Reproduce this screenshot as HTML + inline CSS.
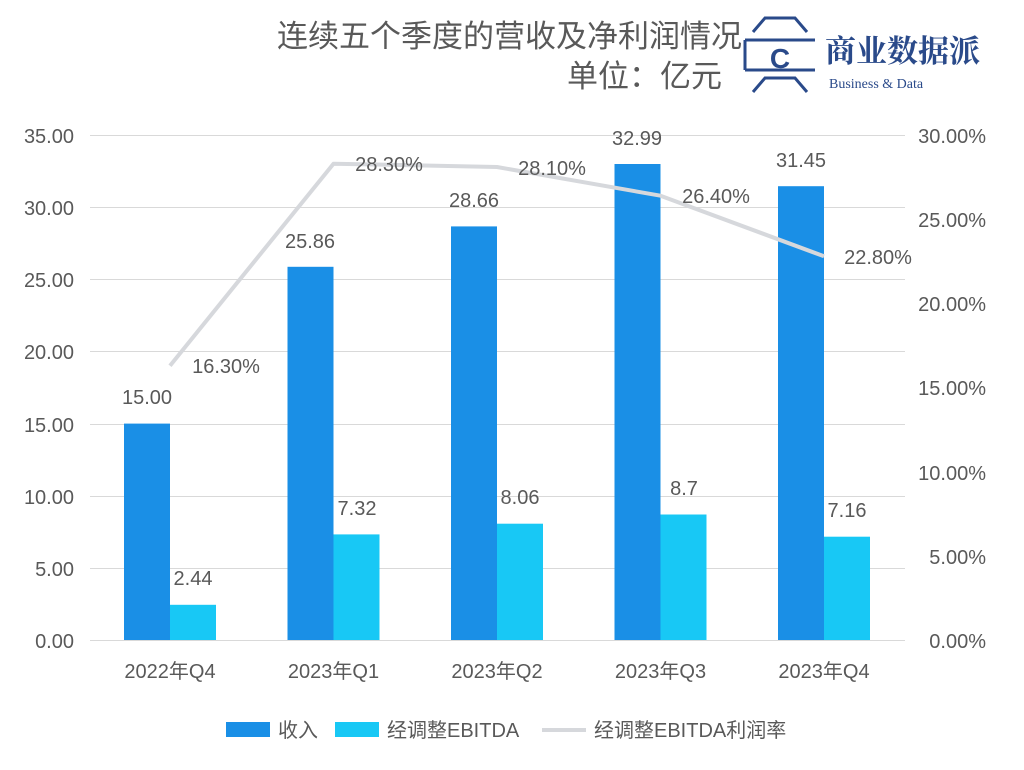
<!DOCTYPE html>
<html><head><meta charset="utf-8"><style>
body{margin:0;background:#fff;}
svg text{font-family:"Liberation Sans","Noto Sans CJK SC",sans-serif;fill:#595959;}
</style></head><body>
<svg width="1024" height="765" viewBox="0 0 1024 765" xmlns="http://www.w3.org/2000/svg">
<rect width="1024" height="765" fill="#fff"/>
<text x="742" y="47" font-size="31" text-anchor="end">连续五个季度的营收及净利润情况</text>
<text x="722" y="87" font-size="31" text-anchor="end">单位：亿元</text>
<!-- logo -->
<g stroke="#2a4a8a" stroke-width="3" fill="none">
<polyline points="753,32 765,18 795,18 807,32"/>
<polyline points="753,92 765,78 795,78 807,92"/>
<polyline points="745,40 745,70"/><line x1="745" y1="40" x2="815" y2="40"/><line x1="745" y1="70" x2="815" y2="70"/>
</g>
<text x="780" y="68" font-size="28" text-anchor="middle" style="fill:#2a4a8a;font-weight:bold">C</text>
<text x="825" y="62" font-size="31" style="fill:#2a4a8a;font-family:'Noto Serif CJK SC',serif;font-weight:bold">商业数据派</text>
<text x="829" y="88" font-size="14" style="fill:#2a4a8a;font-family:'Liberation Serif',serif">Business &amp; Data</text>
<!-- grid -->
<g stroke="#d9d9d9" stroke-width="1">
<line x1="90" y1="135.5" x2="905" y2="135.5"/><line x1="90" y1="207.5" x2="905" y2="207.5"/>
<line x1="90" y1="279.5" x2="905" y2="279.5"/><line x1="90" y1="351.5" x2="905" y2="351.5"/>
<line x1="90" y1="424.5" x2="905" y2="424.5"/><line x1="90" y1="496.5" x2="905" y2="496.5"/>
<line x1="90" y1="568.5" x2="905" y2="568.5"/><line x1="90" y1="640.5" x2="905" y2="640.5"/>
</g>
<g font-size="20" text-anchor="end">
<text x="74" y="143">35.00</text><text x="74" y="215">30.00</text><text x="74" y="287">25.00</text>
<text x="74" y="359">20.00</text><text x="74" y="432">15.00</text><text x="74" y="504">10.00</text>
<text x="74" y="576">5.00</text><text x="74" y="648">0.00</text>
</g>
<g font-size="20" text-anchor="end">
<text x="986" y="143">30.00%</text><text x="986" y="227">25.00%</text><text x="986" y="311">20.00%</text>
<text x="986" y="395">15.00%</text><text x="986" y="480">10.00%</text><text x="986" y="564">5.00%</text>
<text x="986" y="648">0.00%</text>
</g>
<!-- bars -->
<g fill="#1a8fe6">
<rect x="124" y="423.6" width="46" height="216.4"/>
<rect x="287.5" y="266.8" width="46" height="373.2"/>
<rect x="451" y="226.4" width="46" height="413.6"/>
<rect x="614.5" y="164" width="46" height="476"/>
<rect x="778" y="186.2" width="46" height="453.8"/>
</g>
<g fill="#18c8f5">
<rect x="170" y="604.8" width="46" height="35.2"/>
<rect x="333.5" y="534.4" width="46" height="105.6"/>
<rect x="497" y="523.7" width="46" height="116.3"/>
<rect x="660.5" y="514.5" width="46" height="125.5"/>
<rect x="824" y="536.7" width="46" height="103.3"/>
</g>
<polyline points="170,365.7 333.5,163.7 497,167 660.5,195.7 824,256.3" fill="none" stroke="#d6d8dc" stroke-width="4" stroke-linejoin="round"/>
<g font-size="20" text-anchor="middle">
<text x="147" y="404">15.00</text><text x="310" y="248">25.86</text><text x="474" y="207">28.66</text>
<text x="637" y="145">32.99</text><text x="801" y="167">31.45</text>
<text x="193" y="585">2.44</text><text x="357" y="515">7.32</text><text x="520" y="504">8.06</text>
<text x="684" y="495">8.7</text><text x="847" y="517">7.16</text>
<text x="226" y="373">16.30%</text><text x="389" y="171">28.30%</text><text x="552" y="175">28.10%</text>
<text x="716" y="203">26.40%</text><text x="878" y="264">22.80%</text>
</g>
<g font-size="20" text-anchor="middle">
<text x="170" y="678">2022年Q4</text><text x="333.5" y="678">2023年Q1</text><text x="497" y="678">2023年Q2</text>
<text x="660.5" y="678">2023年Q3</text><text x="824" y="678">2023年Q4</text>
</g>
<!-- legend -->
<rect x="226" y="722" width="44" height="15" fill="#1a8fe6"/>
<text x="278" y="737" font-size="20">收入</text>
<rect x="335" y="722" width="44" height="15" fill="#18c8f5"/>
<text x="387" y="737" font-size="20">经调整EBITDA</text>
<line x1="542" y1="730" x2="586" y2="730" stroke="#d6d8dc" stroke-width="4"/>
<text x="594" y="737" font-size="20">经调整EBITDA利润率</text>
</svg>
</body></html>
